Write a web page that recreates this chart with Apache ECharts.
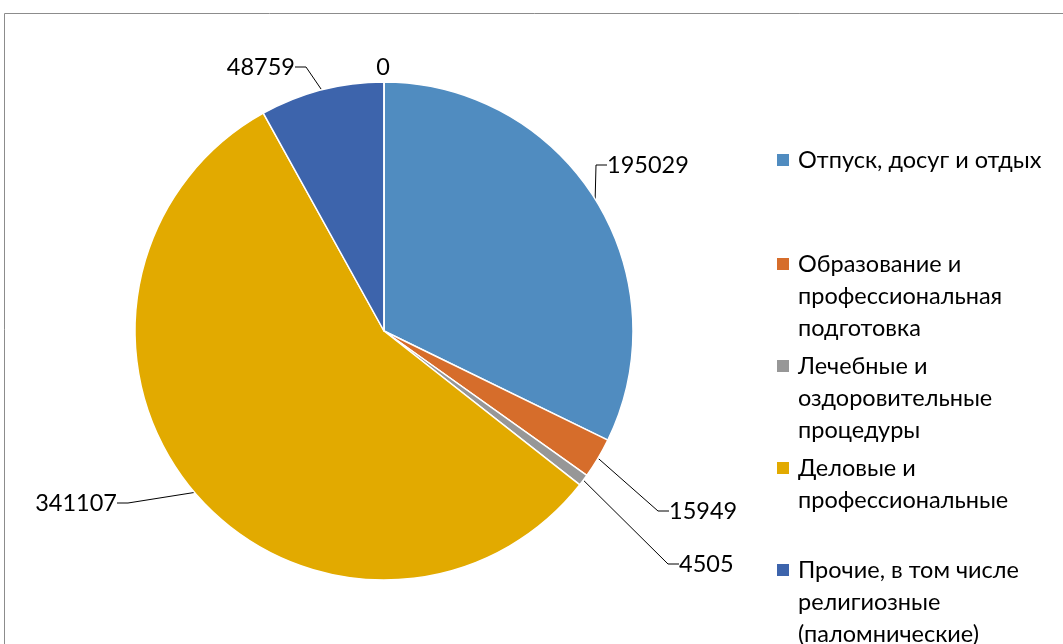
<!DOCTYPE html>
<html><head><meta charset="utf-8">
<script src="https://cdn.jsdelivr.net/npm/echarts@6/dist/echarts.min.js"></script>
<style>html,body{margin:0;padding:0;background:#fff}#c{width:1063px;height:644px}</style>
</head><body><div id="c"></div>
<script>
const categories = [
  'Отпуск, досуг и отдых',
  'Образование и профессиональная подготовка',
  'Лечебные и оздоровительные процедуры',
  'Деловые и профессиональные',
  'Прочие, в том числе религиозные (паломнические)',
  'Другое'
];
const values = [195029, 15949, 4505, 341107, 48759, 0];
const legendLines = [
  ['Отпуск, досуг и отдых'],
  ['Образование и', 'профессиональная', 'подготовка'],
  ['Лечебные и', 'оздоровительные', 'процедуры'],
  ['Деловые и', 'профессиональные'],
  ['Прочие, в том числе', 'религиозные', '(паломнические)']
];
const colors = ['#508cc0', '#d66d2b', '#979797', '#e2aa00', '#3d64ac', '#7f9d3a'];
const FONT = 'Lato';
const FS = 23.5;
const LH = 32;
const legendY = [160, 264, 366, 468, 570];
const labelPos = [[603, 165, 'left'], [665, 511, 'left'], [675, 564, 'left'], [121, 503, 'right'], [299, 67, 'right'], [383, 67, 'center']];

const legends = legendLines.map((lines, i) => {
  const n = lines.length;
  const h = n * LH;
  const c = LH / 2;
  return {
    show: true,
    orient: 'vertical',
    left: 772,
    top: legendY[i] - 5 - c,
    itemWidth: 12, itemHeight: h,
    icon: `path://M0,0L0,0M0,${c - 6}h12v12h-12zM12,${h}L12,${h}`,
    itemStyle: { borderWidth: 0 },
    data: [categories[i]],
    selectedMode: false,
    formatter: () => lines.join('\n'),
    textStyle: { fontFamily: FONT, fontSize: FS, color: '#000', lineHeight: LH, padding: [0, 0, 0, 4] }
  };
});

const chart = echarts.init(document.getElementById('c'));
chart.setOption({
  animation: false,
  color: colors,
  legend: legends,
  graphic: [{
    type: 'rect', shape: { x: 4.5, y: 13.5, width: 1200, height: 800 },
    style: { fill: 'none', stroke: '#8c8c8c', lineWidth: 1 }, silent: true
  }],
  series: [{
    type: 'pie',
    center: [384, 331],
    radius: 249,
    startAngle: 90,
    clockwise: true,
    avoidLabelOverlap: false,
    itemStyle: { borderColor: '#fff', borderWidth: 1.5 },
    label: {
      show: true, position: 'outside', formatter: '{c}',
      fontFamily: FONT, fontSize: FS, color: '#000', padding: [0, 4, 12, 4]
    },
    labelLine: { show: true, length: 10, length2: 11, lineStyle: { color: '#000', width: 1 } },
    labelLayout: (p) => {
      const q = labelPos[p.dataIndex];
      return { x: q[0], y: q[1], align: q[2], verticalAlign: 'middle' };
    },
    data: categories.map((name, i) => ({
      name, value: values[i],
      labelLine: { show: i !== 5 }
    }))
  }]
});
</script></body></html>
